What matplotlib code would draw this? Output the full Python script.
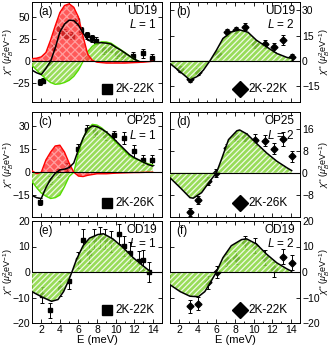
import matplotlib
matplotlib.use("Agg")
import matplotlib.pyplot as plt
from matplotlib.ticker import MultipleLocator

plt.rcParams['font.family'] = ['Liberation Sans', 'DejaVu Sans']
plt.rcParams['mathtext.fontset'] = 'custom'
plt.rcParams['mathtext.rm'] = 'Liberation Sans'
plt.rcParams['mathtext.it'] = 'Liberation Sans:italic'
plt.rcParams['font.size'] = 8.5
plt.rcParams['hatch.linewidth'] = 0.9

# (a) UD19 L=1
a_curve_E = [1, 1.5, 2, 2.5, 3, 3.5, 4, 4.5, 5, 5.5, 6, 6.5, 7, 7.5, 8, 8.5, 9, 9.5, 10, 10.5, 11, 11.5, 12, 12.5]
a_fit = [-10, -13, -15, -8, 0, 15, 33, 42, 46.5, 46, 41, 32, 24, 22, 21, 21, 20.5, 19.5, 16, 13, 9.5, 6, 2.5, 0]
a_green = [-4.5, -10, -15, -20, -24, -26, -25.5, -24, -21.5, -17, -10, 0, 11, 17, 20.5, 22, 21.8, 20.5, 17, 13.5, 10, 6, 2.5, 0]
a_red_E = [1, 1.5, 2, 2.5, 3, 3.5, 4, 4.5, 5, 5.5, 6, 6.5, 7, 7.5, 8, 9, 10, 11, 12, 13, 14]
a_red = [3, 3.5, 5, 10, 24, 40, 55, 63, 65, 61, 50, 28, 8, 1, -1, -2, -2, -2, -1.5, -1, 0]
a_E = [1.9, 2.2, 2.9, 3.4, 3.9, 4.4, 4.7, 5.3, 5.8, 6.3, 6.9, 7.5, 7.9, 8.8, 9.4, 10.1, 10.8, 11.9, 12.9, 13.9]
a_val = [-23.5, -22, -1, 16, 36, 32, 30, 29, 45, 35, 29.5, 26, 23, 12.5, 14, 8, 7, 6, 9, 4]
a_err = [3, 3, 3, 3, 4, 4, 4, 4, 4, 4, 4, 4, 4, 4, 4, 4, 4, 5, 5, 4]

# (b) UD19 L=2
b_curve_E = [1, 2.1, 3.15, 3.9, 4.6, 5.3, 6.0, 6.7, 7.6, 8.5, 9.4, 10.3, 11.4, 12.5, 13.6, 14.1]
b_fit = [-1.6, -6.5, -11.4, -9.4, -5.5, 0, 6.3, 13.3, 17.2, 18.4, 17, 12.3, 8.3, 4.4, 2, 1.5]
b_E = [2.1, 3.15, 4.0, 6.2, 7.1, 8.1, 9.1, 10.2, 11.2, 12.2, 13.2, 14.1]
b_val = [-4.9, -11, -6.5, 4, 17, 18.4, 20.4, 10, 10, 8, 12.3, 2]
b_err = [2, 1.5, 2, 2, 2, 2, 2, 2.5, 2.5, 2.5, 3, 2]

# (c) OP25 L=1
c_curve_E = [1, 1.5, 2, 2.5, 3, 3.5, 4, 4.5, 5, 5.5, 6, 6.5, 7, 7.5, 8, 8.5, 9, 9.5, 10, 10.5, 11, 11.5, 12, 12.5, 13, 13.5, 14]
c_fit = [-15, -16.5, -17, -10, -4.5, -0.7, 1.5, 2, 3, 6, 14.6, 22, 28, 30, 29.5, 28, 26, 23.5, 20.5, 17.5, 14.5, 11.5, 9.5, 8, 6.5, 5, 4]
c_green = [-6, -10, -13.5, -15.5, -17, -16.5, -14.8, -9.3, -2.8, 0, 12.4, 22, 28, 31, 30.5, 28.7, 26, 22.5, 19.5, 16.5, 13.5, 10.5, 9, 7.8, 6.5, 5.5, 4.8]
c_red = [1, -1, 0, 8, 13, 17, 17.5, 13, 5.9, 0, -2.5, -2.8, -2, -1.5, -1, -1, -1, -0.8, -0.6, -0.5, -0.4, -0.3, -0.2, -0.2, -0.1, 0, 0]
c_E = [1.9, 2.9, 3.8, 4.8, 5.9, 6.9, 7.8, 8.9, 9.8, 10.9, 12.0, 12.9, 13.9]
c_val = [-19, -5, -0.6, 3.3, 15, 27.6, 26, 24, 24, 22, 13.5, 8, 8]
c_err = [2.5, 2.5, 2.5, 2.5, 3, 3, 3, 3, 3, 4, 4, 3, 3]

# (d) OP25 L=2
d_curve_E = [1, 2.1, 3.15, 3.5, 4.4, 5.3, 6.0, 6.6, 7.3, 8.2, 8.5, 9.3, 10.3, 11.4, 12.5, 13.6, 14.1]
d_fit = [-1.8, -5.4, -9, -9.2, -7.2, -3, 0, 5.4, 12, 15.2, 15.5, 14, 10.7, 7.2, 4.2, 1.8, 0.8]
d_E = [3.1, 4.0, 5.1, 6.0, 7.1, 8.1, 9.1, 10.2, 11.2, 12.2, 13.2, 14.1]
d_val = [-14.3, -9.9, -3, 0, 9, 13, 13, 12, 11.6, 8.7, 12.3, 6]
d_err = [1.5, 1.5, 1.5, 1.5, 1.5, 1.5, 1.5, 2, 2, 2, 2.5, 2]

# (e) OD19 L=1
e_curve_E = [1, 1.5, 2.2, 3.1, 3.8, 4.4, 4.9, 5.3, 5.8, 6.5, 7.2, 8.1, 8.7, 9.7, 10.8, 11.9, 13.0, 13.7]
e_fit = [-7.7, -8.7, -10, -11.5, -10.8, -7.7, -3.7, 0, 5, 10.3, 13.3, 14.7, 15, 13, 9.6, 5.6, 2.3, 0.3]
e_E = [2.1, 2.95, 4.0, 5.0, 5.9, 6.5, 7.1, 7.7, 8.3, 8.9, 9.5, 10.4, 10.9, 11.6, 12.5, 13.0, 13.6]
e_val = [-9, -15, -6.4, -3.5, 4.7, 12.7, 7.6, 13, 13.6, 13, 12, 15, 10.3, 7.6, 4.3, 4.7, 0]
e_err = [3, 3, 3, 3, 3, 4, 4, 4, 4, 4, 4, 4, 4, 4, 4, 4, 4]

# (f) OD19 L=2
f_curve_E = [1, 2.1, 3.15, 4.05, 4.75, 5.3, 6.0, 6.7, 7.6, 8.7, 9.25, 10.3, 11.4, 12.5, 13.6, 14.1]
f_fit = [-5, -7.7, -9.5, -9.7, -7.7, -4.4, 0, 5.6, 10.3, 12.7, 13, 11, 7, 3.6, 1.2, 0.3]
f_E = [3.1, 4.05, 5.1, 6.1, 7.1, 8.1, 9.1, 10.2, 11.2, 12.2, 13.2, 14.1]
f_val = [-13.5, -12.4, -4.1, 0, 4.7, 5.6, 11.6, 10.3, 5.6, 1, 6, 3.6]
f_err = [2.5, 2.5, 2.5, 2.5, 2.5, 2.5, 2.5, 3, 3, 3, 3, 3]

panels = [
    ("(a)", "UD19", "1", "s", "2K-22K", (-46, 67), [-25, 0, 25, 50], a_curve_E, a_fit, a_green, a_red_E, a_red, a_E, a_val, a_err),
    ("(b)", "UD19", "2", "D", "2K-22K", (-24.5, 35), [-15, 0, 15, 30], b_curve_E, b_fit, None, None, None, b_E, b_val, b_err),
    ("(c)", "OP25", "1", "s", "2K-26K", (-29, 39), [-15, 0, 15, 30], c_curve_E, c_fit, c_green, c_curve_E, c_red, c_E, c_val, c_err),
    ("(d)", "OP25", "2", "D", "2K-26K", (-16, 22), [-8, 0, 8, 16], d_curve_E, d_fit, None, None, None, d_E, d_val, d_err),
    ("(e)", "OD19", "1", "s", "2K-22K", (-20, 20), [-20, -10, 0, 10, 20], e_curve_E, e_fit, None, None, None, e_E, e_val, e_err),
    ("(f)", "OD19", "2", "D", "2K-22K", (-20, 20), [-20, -10, 0, 10, 20], f_curve_E, f_fit, None, None, None, f_E, f_val, f_err),
]

fig = plt.figure(figsize=(3.31, 3.49), dpi=100)
W, H = 331.0, 349.0
rows = [(2, 102), (112, 217), (221, 323)]
cols = [32, 170]
green = '#86d63c'
ylab = r"$\chi$'' ($\mu_B^2$eV$^{-1}$)"

for i, p in enumerate(panels):
    lab, name, L, mk, leg, ylim, yt, cE, fit, gr, rE, red, E, val, err = p
    r, c = i // 2, i % 2
    top, bot = rows[r]
    ax = fig.add_axes([cols[c] / W, 1 - bot / H, 130 / W, (bot - top) / H])
    ax.errorbar(E, val, yerr=err, fmt=mk, color='k', ms=3.5, elinewidth=0.7, capsize=1.2, capthick=0.7, zorder=2)
    if gr is None:
        ax.fill_between(cE, 0, fit, facecolor=green, edgecolor='white', hatch='//////', linewidth=0, alpha=0.85, zorder=3)
    else:
        ax.fill_between(cE, 0, gr, facecolor=green, edgecolor='white', hatch='//////', linewidth=0, alpha=0.85, zorder=3)
        ax.plot(cE, gr, color='#55dd00', lw=1, zorder=3)
        ax.fill_between(rE, 0, red, facecolor='#ff3030', edgecolor='#ffb0b0', hatch='xxxx', linewidth=0, alpha=0.8, zorder=3)
        ax.plot(rE, red, color='red', lw=1, zorder=3)
    ax.axhline(0, color='k', lw=0.8, zorder=4)
    ax.plot(cE, fit, color='k', lw=1.1, zorder=5)

    ax.set_xlim(1, 15)
    ax.set_ylim(*ylim)
    ax.set_yticks(yt)
    ax.xaxis.set_major_locator(MultipleLocator(2))
    ax.xaxis.set_minor_locator(MultipleLocator(1))
    ax.tick_params(which='both', direction='in', top=True, right=True, length=3, width=0.6, pad=1.5, labelsize=7.5)
    ax.tick_params(which='minor', length=1.5)
    for s in ax.spines.values():
        s.set_linewidth(0.7)
    if r < 2:
        ax.set_xticklabels([])
    else:
        ax.set_xlabel("E (meV)", labelpad=0, fontsize=8)
    if c == 1:
        ax.yaxis.tick_right()
        ax.tick_params(which='both', left=True)
        ax.yaxis.set_label_position('right')
        ax.set_ylabel(ylab, rotation=90, fontsize=6.5)
        ax.yaxis.set_label_coords(1.135, 0.5)
    else:
        ax.set_ylabel(ylab, fontsize=6.5)
        ax.yaxis.set_label_coords(-0.125, 0.5)

    ax.text(0.05, 0.9, lab, transform=ax.transAxes, ha='left', va='center')
    ax.text(0.96, 0.91, name, transform=ax.transAxes, ha='right', va='center')
    ax.text(0.96, 0.78, "$\\mathit{L}$ = " + L, transform=ax.transAxes, ha='right', va='center')
    ax.plot([0.58 if c == 0 else 0.54], [0.13], marker=mk, color='k', ms=7 if mk == 's' else 8, transform=ax.transAxes)
    ax.text(0.64 if c == 0 else 0.6, 0.13, leg, transform=ax.transAxes, ha='left', va='center')

fig.savefig("out.png", dpi=100)
